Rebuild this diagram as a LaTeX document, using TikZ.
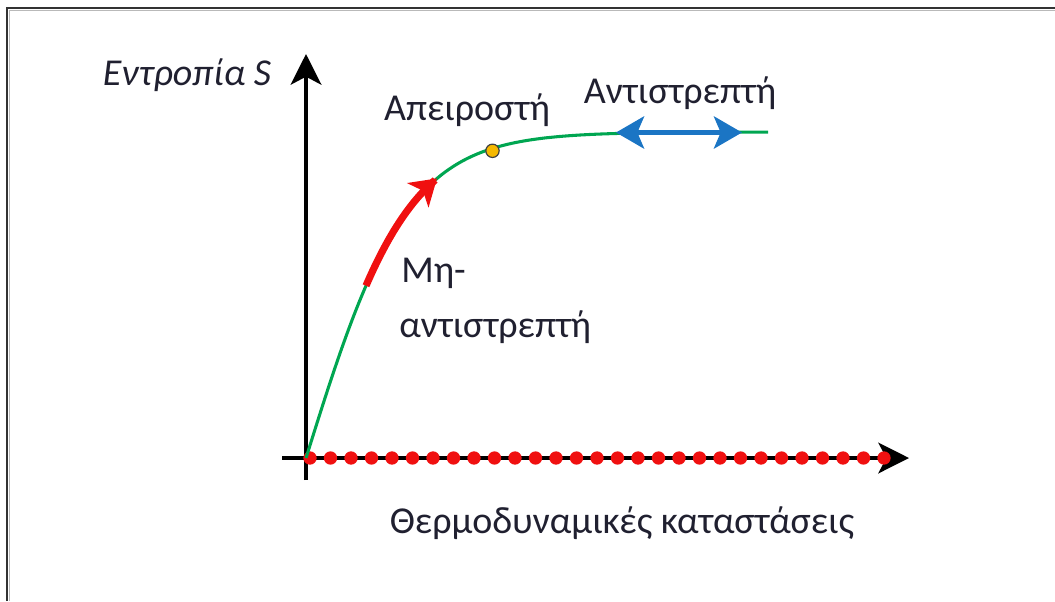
\documentclass[tikz,border=0pt]{standalone}
\usepackage{fontspec}
\setmainfont{Carlito}
\usetikzlibrary{arrows.meta}
\definecolor{cgreen}{HTML}{00A651}
\definecolor{cblue}{HTML}{1B75C4}
\definecolor{cred}{HTML}{F01010}
\definecolor{cyellow}{HTML}{F5B800}
\definecolor{ctext}{HTML}{202030}
\tikzset{
  axisline/.style={line width=2.9pt, black, -{Stealth[length=23pt,width=23pt,inset=6pt]}},
  lbl/.style={text=ctext, font=\fontsize{28.5}{32}\selectfont, inner sep=0pt},
  dotmark/.style={circle, fill=cred, inner sep=0pt, minimum size=10pt},
}
\begin{document}
\begin{tikzpicture}[x=0.75pt,y=-0.75pt]
\useasboundingbox (0,0) rectangle (1055,601);
% frame
\draw[line width=0.9pt, gray!55] (9.5,601) -- (9.5,10.5) -- (1055,10.5);
\draw[line width=1.6pt, black!80] (7,601) -- (7,8) -- (1055,8);
% axes
\coordinate (ybot) at (306,480);
\coordinate (ytop) at (306,54);
\coordinate (xl) at (282,458);
\coordinate (xr) at (909,458);
\draw[axisline] (ybot) -- (ytop);
\draw[axisline] (xl) -- (xr);
% dots on x axis
\foreach \i in {0,...,28} {
  \node[dotmark] (d\i) at ({310+20.5*\i},458) {};
}
% entropy curve
\draw[cgreen, line width=2.3pt] plot[domain=306:768, samples=150] (\x, {458-326*tanh((\x-306)/102)});
% irreversible (red) arrow
\draw[cred, line width=5.4pt, -{Stealth[length=19pt,width=24pt,inset=5pt]}] plot[domain=366:437, samples=40] (\x, {458-326*tanh((\x-306)/102)});
% infinitesimal point
\node[circle, draw=black!75, line width=0.9pt, fill=cyellow, inner sep=0pt, minimum size=10pt] (pt) at (492.5,150.8) {};
% reversible (blue) double arrow
\coordinate (bl) at (616,132.5);
\coordinate (br) at (742,132.5);
\draw[cblue, line width=3.9pt, {Stealth[length=21pt,width=24pt,inset=5pt]}-{Stealth[length=21pt,width=24pt,inset=5pt]}] (bl) -- (br);
% labels
\node[lbl, font=\fontsize{28.5}{32}\selectfont\itshape] (ylab) at (187,75) {Εντροπία S};
\node[lbl] (inf) at (467,110) {Απειροστή};
\node[lbl] (rev) at (680,93) {Αντιστρεπτή};
\node[lbl, anchor=west] (irr1) at (401,273) {Μη-};
\node[lbl, anchor=west] (irr2) at (399,327) {αντιστρεπτή};
\node[lbl] (xlab) at (622,523) {Θερμοδυναμικές καταστάσεις};
\end{tikzpicture}
\end{document}
